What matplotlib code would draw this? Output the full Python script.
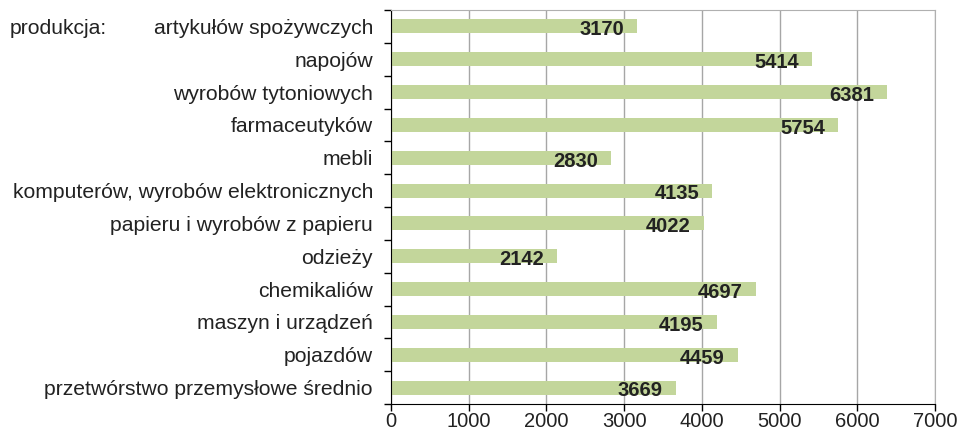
import matplotlib.pyplot as plt
import matplotlib.transforms as mtransforms
import numpy as np

plt.rcParams['font.family'] = ['Liberation Sans', 'DejaVu Sans']

kategorie = ["artykułów spożywczych", "napojów", "wyrobów tytoniowych", "farmaceutyków",
             "mebli", "komputerów, wyrobów elektronicznych", "papieru i wyrobów z papieru",
             "odzieży", "chemikaliów", "maszyn i urządzeń", "pojazdów",
             "przetwórstwo przemysłowe średnio"]
wartosci = [3170, 5414, 6381, 5754, 2830, 4135, 4022, 2142, 4697, 4195, 4459, 3669]
os_x = [0, 1000, 2000, 3000, 4000, 5000, 6000, 7000]

fig = plt.figure(figsize=(9.59, 4.32), dpi=100)
ax = fig.add_axes([391/959, 1 - 404/432, 544/959, 394/432])

y = np.arange(len(kategorie))[::-1]
ax.barh(y, wartosci, height=0.43, color='#c3d69b', zorder=2)
for yi, v in zip(y, wartosci):
    ax.text(v - 170, yi - 0.1, str(v), ha='right', va='center',
            fontsize=14.5, fontweight='bold', color='#222222', zorder=3)

ax.set_xlim(0, 7000)
ax.set_ylim(-0.5, len(kategorie) - 0.5)
ax.set_xticks(os_x)
ax.set_xticklabels([str(t) for t in os_x], fontsize=14.5, color='#222222')
ax.set_yticks(y)
ax.set_yticklabels(kategorie, fontsize=15.2, color='#222222')
ax.tick_params(axis='y', length=0, pad=13)
ax.set_yticks(np.arange(-0.5, len(kategorie)), minor=True)
ax.tick_params(axis='y', which='minor', length=5, width=1, color='black')
ax.tick_params(axis='x', length=5, width=1, color='black', pad=1)

ax.grid(axis='x', color='#a6a6a6', linewidth=1, zorder=0)
for s in ['top', 'right']:
    ax.spines[s].set_color('#b0b0b0')
for s in ['left', 'bottom']:
    ax.spines[s].set_color('black')

# napis "produkcja:" w jednej linii z pierwsza kategoria
trans = mtransforms.blended_transform_factory(fig.transFigure, ax.transData)
ax.text(10/959, y[0], "produkcja:", transform=trans, ha='left', va='center_baseline',
        fontsize=15.2, color='#222222', clip_on=False)

fig.savefig('out.png', dpi=100)
